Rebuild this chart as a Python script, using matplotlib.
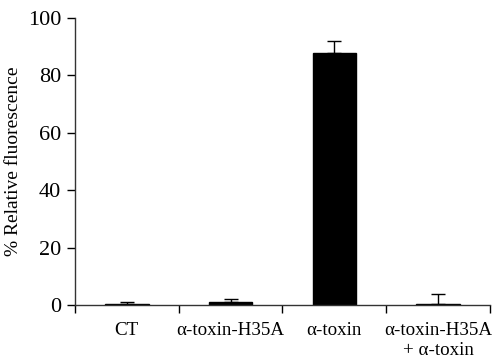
import numpy as np
import matplotlib
matplotlib.use("Agg")
import matplotlib.pyplot as plt

# data
categories = ["CT", "\u03b1-toxin-H35A", "\u03b1-toxin", "\u03b1-toxin-H35A\n+ \u03b1-toxin"]
values = [0.3, 0.9, 87.8, 0.3]
errors = [0.8, 1.3, 4.2, 3.4]

plt.rcParams["font.family"] = ["Liberation Serif", "DejaVu Serif"]

fig = plt.figure(figsize=(4.93, 3.6), dpi=100)
ax = fig.add_axes([0.152, 0.153, 0.842, 0.797])

x = np.arange(len(categories))
ax.bar(x, values, width=0.42, color="black", edgecolor="black",
       yerr=[np.zeros(len(errors)), errors], capsize=5,
       error_kw=dict(ecolor="black", elinewidth=1, capthick=1))

ax.set_xlim(-0.5, len(categories) - 0.5)
ax.set_ylim(0, 100)
ax.set_yticks([0, 20, 40, 60, 80, 100])
ax.set_xticks(x)
ax.set_xticklabels(categories, fontsize=13.7, linespacing=1.25)
ax.set_xticks(np.arange(-0.5, len(categories)), minor=True)
ax.tick_params(axis="x", which="major", length=0, pad=12)
ax.tick_params(axis="x", which="minor", length=6, width=1, direction="out")
ax.tick_params(axis="y", length=6, width=1, direction="out", labelsize=16, pad=4)
ax.set_ylabel("% Relative fluorescence", fontsize=14, labelpad=4)

for s in ["top", "right"]:
    ax.spines[s].set_visible(False)
for s in ["left", "bottom"]:
    ax.spines[s].set_linewidth(1)
    ax.spines[s].set_color("#333333")

fig.savefig("out.png", dpi=100)
